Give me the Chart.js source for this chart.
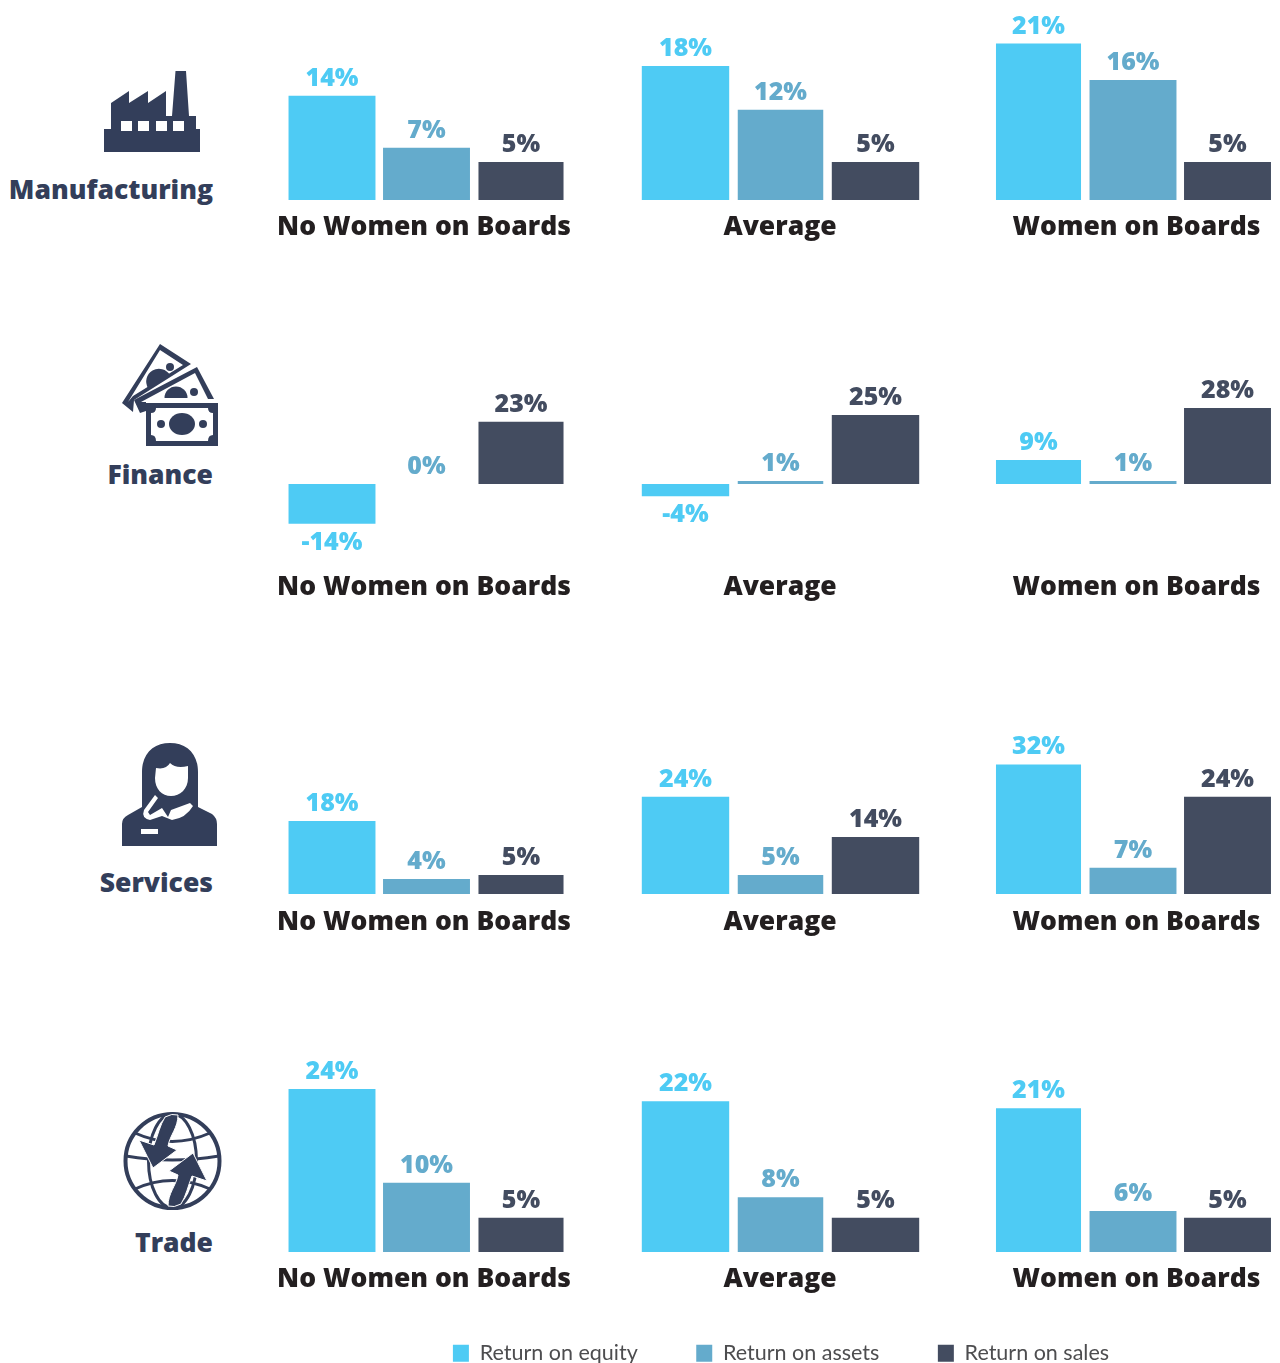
<!DOCTYPE html>
<html><head><meta charset="utf-8">
<script src="https://cdn.jsdelivr.net/npm/chart.js@4"></script>
<style>
html,body{margin:0;padding:0;background:#fff;width:1280px;height:1363px;overflow:hidden;position:relative}
canvas{position:absolute;display:block}
.sector{position:absolute;right:1067px;font:800 26.5px "Open Sans",sans-serif;color:#333e5a;line-height:30px;white-space:nowrap}
svg{position:absolute;left:0;top:0}
</style></head><body>
<svg width="1280" height="1363" viewBox="0 0 1280 1363">
 <g fill="#333e5a">
  <path d="M104 129H111V103L129 91V103L148 91V103L166 91V116H172L175.5 71H186L189 116H196V129H200V152H104Z"/>
  <g fill="#fff"><rect x="121" y="121" width="11" height="10"/><rect x="138" y="121" width="11" height="10"/><rect x="156" y="121" width="11" height="10"/><rect x="173" y="121" width="11" height="10"/></g>
 </g>
 <g>
  <path d="M160 344L191 364L134 400L133 412L122 403Z" fill="#333e5a"/>
  <path d="M160 350L183 365L133 396L128 402Z" fill="#fff"/>
  <path d="M148 388A12 12 0 0 1 170 375Z" fill="#333e5a"/>
  <circle cx="170" cy="367" r="4" fill="#333e5a"/>
  <path d="M197 367L214 399H208L195 373L141 402H146V411L140 413L134 400Z" fill="#333e5a"/>
  <path d="M164.500 398A11.500 11.500 0 0 1 187.500 398Z" fill="#333e5a"/>
  <circle cx="194" cy="392" r="4" fill="#333e5a"/>
  <rect x="146" y="403" width="72" height="43" fill="#333e5a"/>
  <path d="M156 408H208Q208 413 213 413V435Q208 435 208 441H156Q156 435 151 435V413Q156 413 156 408Z" fill="#fff"/>
  <ellipse cx="182" cy="424" rx="13" ry="11" fill="#333e5a"/>
  <circle cx="161" cy="424" r="4" fill="#333e5a"/><circle cx="203" cy="424" r="4" fill="#333e5a"/>
 </g>
 <g>
  <path d="M142 807V772C142 753 154 743 170 743C186 743 198 753 198 772V807L212 814Q217 818 217 824V846H122V824Q122 818 128 815Z" fill="#333e5a"/>
  <path d="M156 768Q166 770 170 763Q176 769 188 766V778C188 789 180 796 171 796C162 796 155 789 155 778Z" fill="#fff"/>
  <path d="M155 795L158 798L148 812L150 815L162 808L168 817L171 810L190 803L193 806Q186 818 172 820L162 816L150 820Q141 818 144 810Z" fill="#fff"/>
  <rect x="141" y="829" width="17" height="5" fill="#fff"/>
 </g>
 <g fill="none" stroke="#333e5a" stroke-width="3">
  <circle cx="172.500" cy="1161" r="47" stroke-width="4"/>
  <ellipse cx="172.500" cy="1161" rx="24" ry="47"/>
  <path d="M135 1133Q172 1150 210 1133M135 1189Q172 1172 210 1189M126 1156Q172 1164 219 1156"/>
 </g>
 <g fill="#333e5a" stroke="#fff" stroke-width="1">
  <path d="M178 1115C178 1128 170 1135 168 1146L177 1150L153 1168L139 1140L154 1145C158 1135 160 1125 165 1117Q172 1113 178 1115Z"/>
  <path d="M178 1115C178 1128 170 1135 168 1146L177 1150L153 1168L139 1140L154 1145C158 1135 160 1125 165 1117Q172 1113 178 1115Z" transform="rotate(180 173 1160.500)"/>
 </g>
</svg>
<div class="sector" style="top:174px">Manufacturing</div>
<div class="sector" style="top:459px">Finance</div>
<div class="sector" style="top:867px">Services</div>
<div class="sector" style="top:1227px">Trade</div>
<script>
const sectors=['Manufacturing','Finance','Services','Trade'];
const groups=['No Women on Boards','Average','Women on Boards'];
const seriesNames=['Return on equity','Return on assets','Return on sales'];
const seriesColors=['#4ecbf4','#64abcc','#434c60'];
const returnOnEquity=[[14,18,21],[-14.4,-4.4,8.7],[18,24,32],[23.8,22,21]];
const returnOnAssets=[[7,12.1,16.1],[0,1.1,1.1],[3.7,4.7,6.5],[10.1,8,6]];
const returnOnSales=[[5.1,5.1,5.1],[22.6,25.1,27.6],[4.7,14.1,24],[5,5,5]];
const FONT='"Open Sans", sans-serif';
// layout of the small multiples: canvas box, plot inset, y-range per row
const rowBoxes=[{top:0,bottom:241,min:-1.48,max:26.85,base:235},{top:345,bottom:601,min:-31.6,max:50.5,base:595},{top:720,bottom:936,min:-2.96,max:42.96,base:930},{top:1040,bottom:1293,min:-1.6,max:30.95,base:1287}];
const colBoxes=[{left:274,width:300,padL:10.75,padR:5.75,center:424,bars:[.92,.92,.9]},{left:630,width:300,padL:8,padR:7,center:780,bars:[.92,.9,.92]},{left:990,width:293,padL:1.25,padR:8.25,center:1136.5,bars:[.9,.92,.92]}];

const valueLabels={id:'valueLabels',afterDatasetsDraw(chart,args,opts){
  const ctx=chart.ctx;ctx.save();
  ctx.font='800 25px '+FONT;ctx.textAlign='center';ctx.textBaseline='alphabetic';
  chart.data.datasets.forEach((ds,i)=>{
    const el=chart.getDatasetMeta(i).data[0],v=ds.data[0];
    ctx.fillStyle=ds.backgroundColor;
    ctx.fillText(Math.round(v)+'%',el.x,v<0?el.y+26:el.y-10);
  });
  ctx.font='800 26.5px '+FONT;ctx.fillStyle='#231f20';
  ctx.fillText(opts.text,opts.x,opts.y);
  ctx.restore();
}};

function addCanvas(l,t,w,h){
  const c=document.createElement('canvas');
  c.width=w;c.height=h;c.style.cssText=`left:${l}px;top:${t}px;width:${w}px;height:${h}px`;
  document.body.appendChild(c);return c;
}
sectors.forEach((s,r)=>{
  groups.forEach((g,k)=>{
    const R=rowBoxes[r],C=colBoxes[k];
    const series=[returnOnEquity,returnOnAssets,returnOnSales];
    const c=addCanvas(C.left,R.top,C.width,Math.round(R.bottom-R.top));
    new Chart(c,{type:'bar',plugins:[valueLabels],
      data:{labels:[s+' – '+g],datasets:series.map((a,i)=>({label:seriesNames[i],data:[a[r][k]],backgroundColor:seriesColors[i],barPercentage:C.bars[i],categoryPercentage:1}))},
      options:{responsive:false,animation:false,events:[],
        layout:{padding:{left:C.padL,right:C.padR,top:0,bottom:30}},
        scales:{x:{display:false},y:{display:false,min:R.min,max:R.max}},
        plugins:{legend:{display:false},tooltip:{enabled:false},title:{display:false},
          valueLabels:{text:g,x:C.center-C.left,y:R.base-R.top}}
      }});
  });
});
// shared legend
const lc=addCanvas(281,1284,1000,300);
new Chart(lc,{type:'bar',
  data:{labels:[],datasets:seriesNames.map((n,i)=>({label:n,data:[],backgroundColor:seriesColors[i]}))},
  options:{responsive:false,animation:false,events:[],
    scales:{x:{display:false},y:{display:false}},
    plugins:{tooltip:{enabled:false},title:{display:false},
      legend:{display:true,position:'top',labels:{boxWidth:16,boxHeight:17,padding:58.5,color:'#4d4d4f',font:{family:'Lato, sans-serif',size:21.5,weight:'400'}}}}
  }});
</script>
</body></html>
